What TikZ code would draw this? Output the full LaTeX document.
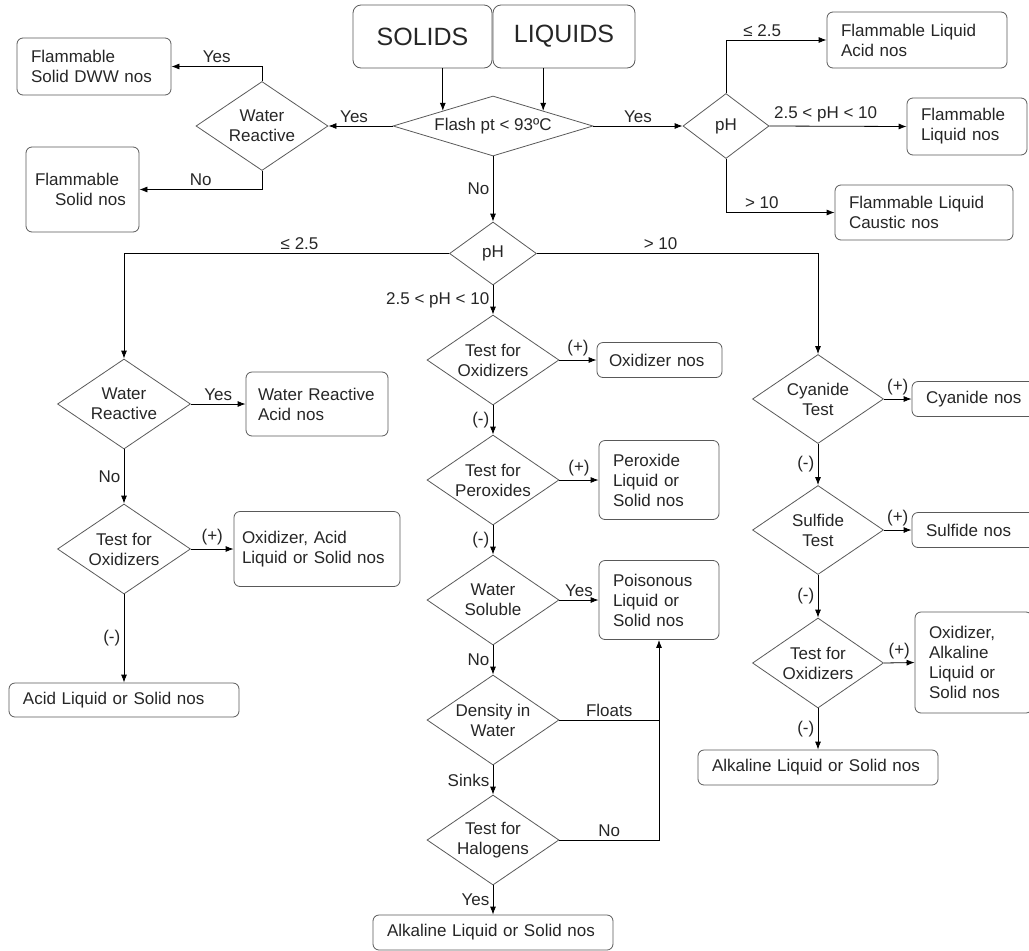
\documentclass[tikz,border=0pt]{standalone}
\usepackage{fontspec}
\setmainfont{Liberation Sans}
\usetikzlibrary{shapes,arrows,arrows.meta,positioning,calc}

\begin{document}
\begin{tikzpicture}[x=1pt, y=-1pt, line width=0.8pt,
  every node/.style={font=\fontsize{17}{20}\selectfont, text=black!85},
  decision/.style={draw=black!65, diamond, aspect=1.47, inner sep=-3pt, align=center},
  result/.style={draw=black!65, rectangle, rounded corners=6pt, align=left, inner xsep=14pt, inner ysep=0pt},
  start/.style={draw=black!65, rectangle, rounded corners=8pt, font=\fontsize{25}{30}\selectfont},
  >={Latex[length=8pt,width=6pt]}]
\useasboundingbox (0,0) rectangle (1029,951);

% top
\node[start, minimum width=139pt, minimum height=63pt] (solids) at (422.5,36.5) {SOLIDS};
\node[start, minimum width=142pt, minimum height=63pt] (liquids) at (564,36.5) {LIQUIDS};
\node[decision, aspect=3.33, minimum width=200pt, minimum height=60pt] (flash) at (493,126) {Flash pt < 93ºC};

% flammable solids
\node[decision, minimum width=132pt, minimum height=89pt] (wrtop) at (262,126) {Water\\Reactive};
\node[result, text width=126pt, minimum height=57pt] (fsdww) at (94,66.5) {Flammable\\Solid DWW nos};
\node[result, inner xsep=9pt, text width=95pt, minimum height=85pt] (fsnos) at (82.5,189.5) {Flammable\\\hspace*{20pt}Solid nos};

% flammable liquids
\node[decision, aspect=1.33, minimum width=86pt, minimum height=65pt] (phtop) at (726,126) {pH};
\node[result, text width=152pt, minimum height=56pt] (flacid) at (917,40) {Flammable Liquid\\Acid nos};
\node[result, text width=92pt, minimum height=57pt] (flnos) at (967,126.5) {Flammable\\Liquid nos};
\node[result, text width=150pt, minimum height=55pt] (flcaustic) at (924,212.5) {Flammable Liquid\\Caustic nos};

% not flammable
\node[decision, aspect=1.38, minimum width=87pt, minimum height=63pt] (ph) at (493,253.5) {pH};

% acid branch
\node[decision, minimum width=133pt, minimum height=90pt] (wracid) at (124,404) {Water\\Reactive};
\node[result, inner xsep=12pt, text width=118pt, minimum height=64pt] (wracidnos) at (317,404) {Water Reactive\\Acid nos};
\node[decision, minimum width=133pt, minimum height=90pt] (oxacid) at (124,549) {Test for\\Oxidizers};
\node[result, inner xsep=8pt, text width=150pt, minimum height=75pt] (oxacidnos) at (317,549) {Oxidizer, Acid\\Liquid or Solid nos};
\node[result, text width=202pt, minimum height=34pt] (acidnos) at (124,700) {Acid Liquid or Solid nos};

% neutral branch
\node[decision, minimum width=132pt, minimum height=90pt] (oxneut) at (493,360) {Test for\\Oxidizers};
\node[result, inner xsep=12pt, text width=101pt, minimum height=35pt] (oxnos) at (659.5,360) {Oxidizer nos};
\node[decision, minimum width=132pt, minimum height=90pt] (perox) at (493,480) {Test for\\Peroxides};
\node[result, text width=92pt, minimum height=79pt] (peroxnos) at (659,480) {Peroxide\\Liquid or\\Solid nos};
\node[decision, minimum width=132pt, minimum height=90pt] (soluble) at (493,600) {Water\\Soluble};
\node[result, text width=92pt, minimum height=79pt] (poisnos) at (659,600) {Poisonous\\Liquid or\\Solid nos};
\node[decision, minimum width=132pt, minimum height=90pt] (density) at (493,720) {Density in\\Water};
\node[decision, minimum width=132pt, minimum height=90pt] (halogen) at (493,840) {Test for\\Halogens};
\node[result, text width=212pt, minimum height=35pt] (alknos) at (493,932.5) {Alkaline Liquid or Solid nos};
\coordinate (join) at (poisnos.south |- density.east);

% alkaline branch
\node[decision, minimum width=131pt, minimum height=89pt] (cyanide) at (818,399) {Cyanide\\Test};
\node[result, text width=100pt, minimum height=35pt] (cyannos) at (976,399) {Cyanide nos};
\node[decision, minimum width=131pt, minimum height=89pt] (sulfide) at (818,530) {Sulfide\\Test};
\node[result, text width=100pt, minimum height=35pt] (sulfnos) at (976,530) {Sulfide nos};
\node[decision, minimum width=131pt, minimum height=90pt] (oxalk) at (818,663) {Test for\\Oxidizers};
\node[result, text width=89pt, minimum height=101pt] (oxalknos) at (973.5,662.5) {Oxidizer,\\Alkaline\\Liquid or\\Solid nos};
\node[result, text width=212pt, minimum height=35pt] (alkrnos) at (818,767.5) {Alkaline Liquid or Solid nos};

% connectors
\draw[->] (solids.south -| flash.north west) -- (flash.north west);
\draw[->] (liquids.south -| flash.north east) -- (flash.north east);
\draw[->] (flash.west) -- node[above, pos=0.6] {Yes} (wrtop.east);
\draw[->] (wrtop.north) |- node[above, pos=0.75] {Yes} (fsdww.east);
\draw[->] (wrtop.south) |- node[above, pos=0.75] {No} (fsnos.east);
\draw[->] (flash.east) -- node[above] {Yes} (phtop.west);
\draw[->] (phtop.north) |- node[above, pos=0.68] {≤ 2.5} (flacid.west);
\draw[->] (phtop.east) -- node[above, pos=0.41] {2.5 < pH < 10} (flnos.west);
\draw[->] (phtop.south) |- node[above, pos=0.665] {> 10} (flcaustic.west);
\draw[->] (flash.south) -- node[left] {No} (ph.north);

\draw[->] (ph.west) -| node[above, pos=0.23] {≤ 2.5} (wracid.north);
\draw[->] (ph.south) -- node[left] {2.5 < pH < 10} (oxneut.north);
\draw[->] (ph.east) -| node[above, pos=0.22] {> 10} (cyanide.north);

\draw[->] (wracid.east) -- node[above] {Yes} (wracidnos.west);
\draw[->] (wracid.south) -- node[left] {No} (oxacid.north);
\draw[->] (oxacid.east) -- node[above] {(+)} (oxacidnos.west);
\draw[->] (oxacid.south) -- node[left] {(-)} (acidnos.north);

\draw[->] (oxneut.east) -- node[above] {(+)} (oxnos.west);
\draw[->] (oxneut.south) -- node[left] {(-)} (perox.north);
\draw[->] (perox.east) -- node[above] {(+)} (peroxnos.west);
\draw[->] (perox.south) -- node[left] {(-)} (soluble.north);
\draw[->] (soluble.east) -- node[above] {Yes} (poisnos.west);
\draw[->] (soluble.south) -- node[left] {No} (density.north);
\draw[->] (density.east) -- node[above] {Floats} (join) -- (poisnos.south);
\draw[->] (density.south) -- node[left] {Sinks} (halogen.north);
\draw (halogen.east) -| node[above, pos=0.25] {No} (join);
\draw[->] (halogen.south) -- node[left] {Yes} (alknos.north);

\draw[->] (cyanide.east) -- node[above] {(+)} (cyannos.west);
\draw[->] (cyanide.south) -- node[left] {(-)} (sulfide.north);
\draw[->] (sulfide.east) -- node[above] {(+)} (sulfnos.west);
\draw[->] (sulfide.south) -- node[left] {(-)} (oxalk.north);
\draw[->] (oxalk.east) -- node[above] {(+)} (oxalknos.west);
\draw[->] (oxalk.south) -- node[left] {(-)} (alkrnos.north);
\end{tikzpicture}
\end{document}
